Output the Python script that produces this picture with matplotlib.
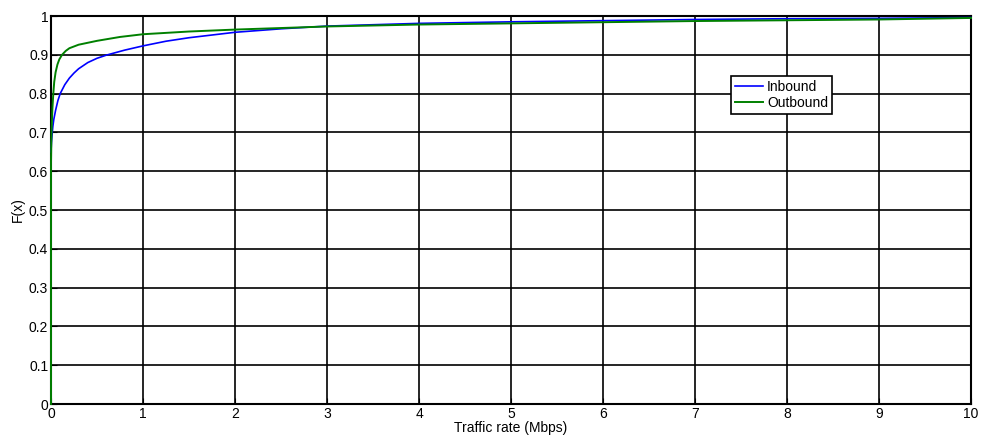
import matplotlib.pyplot as plt

plt.rcParams['font.family'] = ['Liberation Sans', 'DejaVu Sans']

# CDF readings (x in Mbps)
rate_in = [0.0, 0.005, 0.01, 0.02, 0.03, 0.05, 0.075, 0.1, 0.15, 0.2, 0.25, 0.3, 0.4, 0.5,
           0.6, 0.8, 1.0, 1.25, 1.5, 2.0, 2.5, 3.0, 4.0, 5.0, 6.0, 7.0, 8.0, 9.0, 10.0]
cdf_in = [0.65, 0.675, 0.69, 0.715, 0.733, 0.757, 0.782, 0.80, 0.823, 0.84, 0.853, 0.864,
          0.88, 0.891, 0.899, 0.912, 0.923, 0.935, 0.944, 0.958, 0.967, 0.974, 0.981, 0.985,
          0.988, 0.991, 0.993, 0.994, 0.996]

rate_out = [0.0, 0.0, 0.003, 0.006, 0.01, 0.015, 0.025, 0.035, 0.05, 0.07, 0.09, 0.12, 0.16,
            0.2, 0.3, 0.5, 0.75, 1.0, 1.5, 2.0, 3.0, 4.0, 5.0, 6.0, 7.0, 8.0, 9.0, 10.0]
cdf_out = [0.0, 0.62, 0.67, 0.70, 0.73, 0.76, 0.80, 0.83, 0.855, 0.875, 0.888, 0.90, 0.91,
           0.917, 0.926, 0.936, 0.946, 0.953, 0.96, 0.965, 0.973, 0.978, 0.981, 0.984, 0.987,
           0.989, 0.991, 0.995]

x_ticks = list(range(0, 11))
y_ticks = [0, 0.1, 0.2, 0.3, 0.4, 0.5, 0.6, 0.7, 0.8, 0.9, 1]
y_labels = ['0', '0.1', '0.2', '0.3', '0.4', '0.5', '0.6', '0.7', '0.8', '0.9', '1']

fig = plt.figure(figsize=(9.83, 4.37), dpi=100)
ax = fig.add_axes([51 / 983, 1 - 404 / 437, 920 / 983, 388 / 437])

ax.plot(rate_in, cdf_in, color='#0000ff', linewidth=1.2, label='Inbound',
        zorder=4, clip_on=False)
ax.plot(rate_out, cdf_out, color='#008000', linewidth=1.4, label='Outbound',
        zorder=4, clip_on=False)

ax.set_xlim(0, 10)
ax.set_ylim(0, 1)
ax.set_xticks(x_ticks)
ax.set_yticks(y_ticks)
ax.set_yticklabels(y_labels)
ax.grid(True, color='black', linestyle='-', linewidth=1.2)
ax.tick_params(direction='in', length=4, labelsize=10, pad=2, colors='black')
for sp in ax.spines.values():
    sp.set_linewidth(1.5)

ax.set_xlabel('Traffic rate (Mbps)', fontsize=10, labelpad=0)
ax.set_ylabel('F(x)', fontsize=10, labelpad=3)

leg = ax.legend(loc='upper left', bbox_to_anchor=(0.739, 0.846), fontsize=10,
                frameon=True, fancybox=False, framealpha=1, edgecolor='black',
                handlelength=2.0, handletextpad=0.3, borderpad=0.3, labelspacing=0.15,
                borderaxespad=0)
leg.set_zorder(6)
leg.get_frame().set_linewidth(1.2)

fig.savefig('out.png', dpi=100)
